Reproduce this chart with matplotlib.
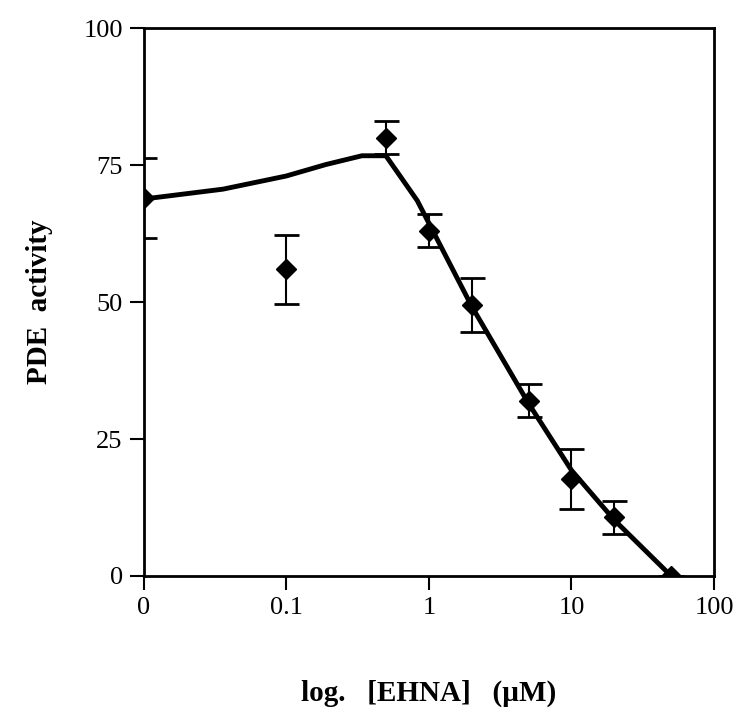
import matplotlib
matplotlib.use("Agg")
import matplotlib.pyplot as plt

plt.rcParams['font.family'] = ['Liberation Serif', 'DejaVu Serif']

# concentration (uM); 0 is drawn at 0.01 on the log axis
conc = [0.01, 0.1, 0.5, 1, 2, 5, 10, 20, 50]
activity = [69, 56, 80, 63, 49.5, 32, 17.7, 10.7, 0]
err = [7.3, 6.3, 3, 3, 4.9, 3, 5.5, 3, 0]

# fitted curve
fit_x = [0.01, 0.036, 0.1, 0.19, 0.34, 0.5, 0.83, 2, 5, 10, 20, 50]
fit_y = [68.8, 70.6, 73, 75.1, 76.7, 76.7, 68.5, 49.2, 31.5, 19.3, 10.2, 0]

tick_pos = [0.01, 0.1, 1, 10, 100]
tick_lab = ['0', '0.1', '1', '10', '100']

fig = plt.figure(figsize=(7.4, 7.2), dpi=100)
ax = fig.add_axes([0.194, 0.2, 0.771, 0.761])

ax.plot(fit_x, fit_y, color='black', lw=3.5, zorder=2)
ax.errorbar(conc, activity, yerr=err, fmt='D', color='black', ms=10,
            ecolor='black', elinewidth=1.5, capsize=9, capthick=2, zorder=3)

ax.set_xscale('log')
ax.set_xlim(0.01, 100)
ax.set_ylim(0, 100)
ax.set_xticks(tick_pos)
ax.set_xticklabels(tick_lab)
ax.minorticks_off()
ax.set_yticks([0, 25, 50, 75, 100])

for s in ax.spines.values():
    s.set_linewidth(2)
ax.tick_params(direction='out', length=10, width=1.5, labelsize=19, pad=5)

ax.set_ylabel('PDE  activity', fontsize=21, fontweight='bold', labelpad=22)
ax.set_xlabel('log.   [EHNA]   (\u00b5M)', fontsize=21, fontweight='bold',
              labelpad=44)

fig.savefig('out.png', dpi=100)
